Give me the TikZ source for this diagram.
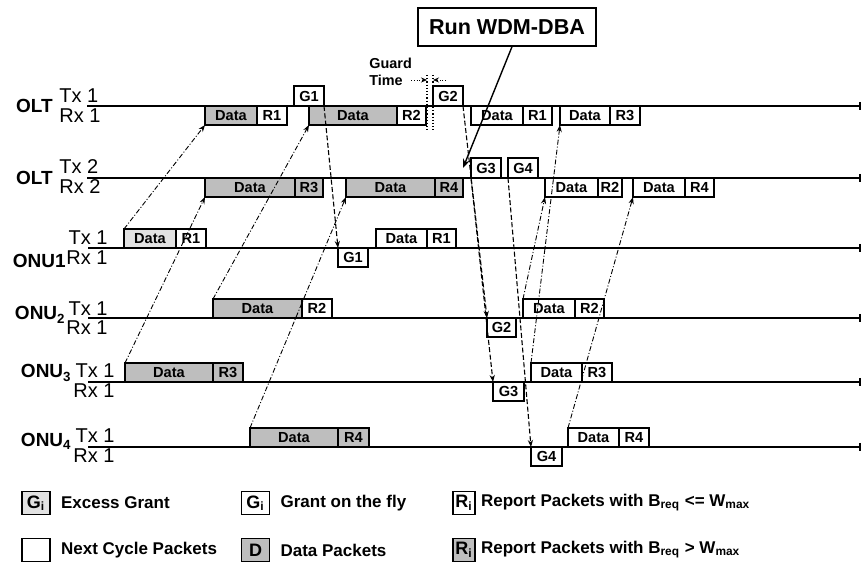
\documentclass[tikz,border=0pt]{standalone}
\usepackage{fontspec}
\setmainfont{Liberation Sans}
\usepackage{tikz}
\usetikzlibrary{arrows.meta,positioning}
\definecolor{pktgray}{RGB}{190,190,190}
\definecolor{pktlight}{RGB}{226,226,226}

\tikzset{
  pkt/.style={draw, line width=0.7pt, inner sep=0pt, outer sep=0pt,
    minimum height=9.5pt, font=\fontsize{7.3}{8}\selectfont\bfseries},
  graypkt/.style={pkt, fill=pktgray},
  grantpkt/.style={pkt, minimum width=15pt, minimum height=10pt},
  rowline/.style={line width=0.8pt, -{Bar[width=4pt]}},
  txlab/.style={inner sep=0pt, font=\fontsize{10}{12}\selectfont},
  rowlab/.style={inner sep=0pt, font=\fontsize{9.5}{11}\selectfont\bfseries},
  upline/.style={line width=0.45pt, dash pattern=on 2.5pt off 1pt on 0.5pt off 1pt,
    -{Stealth[length=3.5pt,width=2.6pt]}},
  downline/.style={line width=0.55pt, dash pattern=on 2.5pt off 1.2pt,
    -{Stealth[length=3.5pt,width=2.6pt]}},
  legbox/.style={draw, line width=0.7pt, inner sep=0pt, minimum width=14pt,
    minimum height=11.5pt, font=\fontsize{9}{10}\selectfont\bfseries},
  legtext/.style={inner sep=0pt, font=\fontsize{8.5}{10}\selectfont\bfseries}
}

\begin{document}
\begin{tikzpicture}[x=0.5pt, y=-0.5pt]
  \fill[white] (0,0) rectangle (863,565);
  \useasboundingbox (0,0) rectangle (863,565);

  % OLT Tx 1 / Rx 1
  \draw[rowline] (87,106) -- (861,106);
  \node[rowlab, anchor=base east] (olt1) at (53,113) {OLT};
  \node[txlab, anchor=base west] (olt1tx) at (59,103) {Tx 1};
  \node[txlab, anchor=base west] (olt1rx) at (59,123) {Rx 1};
  \node[grantpkt, anchor=south west] (o1g1) at (294,106) {G1};
  \node[grantpkt, anchor=south west] (o1g2) at (433,106) {G2};
  \node[graypkt, minimum width=26pt, anchor=north west] (o1d1) at (205,106) {Data};
  \node[pkt, minimum width=15pt, right=0pt of o1d1] (o1r1) {R1};
  \node[graypkt, minimum width=44pt, anchor=north west] (o1d2) at (309,106) {Data};
  \node[pkt, minimum width=14.5pt, right=0pt of o1d2] (o1r2) {R2};
  \node[pkt, minimum width=26pt, anchor=north west] (o1d3) at (471,106) {Data};
  \node[pkt, minimum width=14.5pt, right=0pt of o1d3] (o1r3) {R1};
  \node[pkt, minimum width=25pt, anchor=north west] (o1d4) at (560,106) {Data};
  \node[pkt, minimum width=15pt, right=0pt of o1d4] (o1r4) {R3};

  % Guard time
  \draw[densely dotted, line width=0.6pt] (427,75) -- (427,130);
  \draw[densely dotted, line width=0.6pt] (433,75) -- (433,130);
  \draw[densely dotted, -{Stealth[length=3pt,width=2.5pt]}] (411,80) -- (427,80);
  \draw[densely dotted, -{Stealth[length=3pt,width=2.5pt]}] (446,80) -- (433,80);
  \node[inner sep=0pt, anchor=west, align=left,
    font=\fontsize{7.2}{8.5}\selectfont\bfseries] (guard) at (369,72) {Guard\\Time};

  % Run WDM-DBA
  \node[draw, line width=0.7pt, minimum width=89pt, minimum height=19pt,
    font=\fontsize{10.8}{12}\selectfont\bfseries] (run) at (507,27) {Run WDM-DBA};

  % OLT Tx 2 / Rx 2
  \draw[rowline] (87,178) -- (861,178);
  \node[rowlab, anchor=base east] (olt2) at (53,185) {OLT};
  \node[txlab, anchor=base west] (olt2tx) at (59,174) {Tx 2};
  \node[txlab, anchor=base west] (olt2rx) at (59,194) {Rx 2};
  \node[grantpkt, anchor=south west] (o2g3) at (471,178) {G3};
  \node[grantpkt, anchor=south west] (o2g4) at (508,178) {G4};
  \node[graypkt, minimum width=45pt, anchor=north west] (o2d1) at (205,178) {Data};
  \node[graypkt, minimum width=14pt, right=0pt of o2d1] (o2r1) {R3};
  \node[graypkt, minimum width=44.5pt, anchor=north west] (o2d2) at (346,178) {Data};
  \node[graypkt, minimum width=14pt, right=0pt of o2d2] (o2r2) {R4};
  \node[pkt, minimum width=26.5pt, anchor=north west] (o2d3) at (545,178) {Data};
  \node[pkt, minimum width=12pt, right=0pt of o2d3] (o2r3) {R2};
  \node[pkt, minimum width=26pt, anchor=north west] (o2d4) at (633,178) {Data};
  \node[pkt, minimum width=14.5pt, right=0pt of o2d4] (o2r4) {R4};

  % ONU1
  \draw[rowline] (88,248) -- (861,248);
  \node[rowlab, anchor=base east] (onu1) at (66,268) {ONU1};
  \node[txlab, anchor=base east] (u1tx) at (108,245) {Tx 1};
  \node[txlab, anchor=base east] (u1rx) at (108,265) {Rx 1};
  \node[pkt, fill=pktlight, minimum width=26pt, anchor=south west] (u1d1) at (124,248) {Data};
  \node[pkt, minimum width=15pt, right=0pt of u1d1] (u1r1) {R1};
  \node[pkt, minimum width=25.5pt, anchor=south west] (u1d2) at (376,248) {Data};
  \node[pkt, minimum width=14.5pt, right=0pt of u1d2] (u1r2) {R1};
  \node[pkt, minimum width=15pt, anchor=north west] (u1g1) at (338,248) {G1};

  % ONU2
  \draw[rowline] (88,318) -- (861,318);
  \node[rowlab, anchor=base east] (onu2) at (66,320) {ONU\textsubscript{2}};
  \node[txlab, anchor=base east] (u2tx) at (108,316) {Tx 1};
  \node[txlab, anchor=base east] (u2rx) at (108,335) {Rx 1};
  \node[graypkt, minimum width=44.5pt, anchor=south west] (u2d1) at (213,318) {Data};
  \node[pkt, minimum width=15pt, right=0pt of u2d1] (u2r1) {R2};
  \node[pkt, minimum width=26pt, anchor=south west] (u2d2) at (523,318) {Data};
  \node[pkt, minimum width=14.5pt, right=0pt of u2d2] (u2r2) {R2};
  \node[pkt, minimum width=14.5pt, anchor=north west] (u2g2) at (487,318) {G2};

  % ONU3
  \draw[rowline] (88,382) -- (861,382);
  \node[rowlab, anchor=base east] (onu3) at (72,378) {ONU\textsubscript{3}};
  \node[txlab, anchor=base east] (u3tx) at (115,378) {Tx 1};
  \node[txlab, anchor=base east] (u3rx) at (115,398) {Rx 1};
  \node[graypkt, minimum width=44pt, anchor=south west] (u3d1) at (125,382) {Data};
  \node[graypkt, minimum width=15pt, right=0pt of u3d1] (u3r1) {R3};
  \node[pkt, minimum width=25.5pt, anchor=south west] (u3d2) at (531,382) {Data};
  \node[pkt, minimum width=15pt, right=0pt of u3d2] (u3r2) {R3};
  \node[pkt, minimum width=15.5pt, anchor=north west] (u3g3) at (493,382) {G3};

  % ONU4
  \draw[rowline] (88,447) -- (861,447);
  \node[rowlab, anchor=base east] (onu4) at (72,447) {ONU\textsubscript{4}};
  \node[txlab, anchor=base east] (u4tx) at (115,443) {Tx 1};
  \node[txlab, anchor=base east] (u4rx) at (115,463) {Rx 1};
  \node[graypkt, minimum width=44pt, anchor=south west] (u4d1) at (250,447) {Data};
  \node[graypkt, minimum width=15.5pt, right=0pt of u4d1] (u4r1) {R4};
  \node[pkt, minimum width=25.5pt, anchor=south west] (u4d2) at (568,447) {Data};
  \node[pkt, minimum width=15pt, right=0pt of u4d2] (u4r2) {R4};
  \node[pkt, minimum width=15.5pt, anchor=north west] (u4g4) at (531,447) {G4};

  % data and reports up to the OLT
  \draw[upline] (u1d1.north west) -- (o1d1.south west);
  \draw[upline] (u2d1.north west) -- (o1d2.south west);
  \draw[upline] (u3d1.north west) -- (o2d1.south west);
  \draw[upline] (u4d1.north west) -- (o2d2.south west);
  \draw[upline] (u2d2.north west) -- (o2d3.south west);
  \draw[upline] (u3d2.north west) -- (o1d4.south west);
  \draw[upline] (u4d2.north west) -- (o2d4.south west);

  % grants down to the ONUs
  \draw[downline] (o1g1.south east) -- (u1g1.north west);
  \draw[downline] (o1g2.south east) -- (u2g2.north west);
  \draw[downline] (o2g3.south west) -- (u3g3.north west);
  \draw[downline] (o2g4.south west) -- (u4g4.north west);

  % DBA runs, then G3
  \coordinate (runend) at ([xshift=-4pt]o2g3.west);
  \draw[line width=0.7pt, -{Stealth[length=4.5pt,width=3.5pt]}]
    ([xshift=2.5pt]run.south) -- (runend);

  % Legend
  \node[legbox, fill=pktlight] (lg1) at (36,503) {G\textsubscript{i}};
  \node[legtext, right=5pt of lg1] (lt1) {Excess Grant};
  \node[legbox] (lg2) at (255.5,503) {G\textsubscript{i}};
  \node[legtext, right=5pt of lg2] (lt2) {Grant on the fly};
  \node[legbox, minimum width=11pt] (lg3) at (464,503) {R\textsubscript{i}};
  \node[legtext, right=2.5pt of lg3] (lt3) {Report Packets with B\textsubscript{req} <= W\textsubscript{max}};
  \node[legbox] (lg4) at (36,550) {};
  \node[legtext, right=5pt of lg4] (lt4) {Next Cycle Packets};
  \node[legbox, fill=pktgray] (lg5) at (255.5,550) {D};
  \node[legtext, right=5pt of lg5] (lt5) {Data Packets};
  \node[legbox, fill=pktgray, minimum width=11pt] (lg6) at (464,550) {R\textsubscript{i}};
  \node[legtext, right=2.5pt of lg6] (lt6) {Report Packets with B\textsubscript{req} > W\textsubscript{max}};
\end{tikzpicture}
\end{document}
